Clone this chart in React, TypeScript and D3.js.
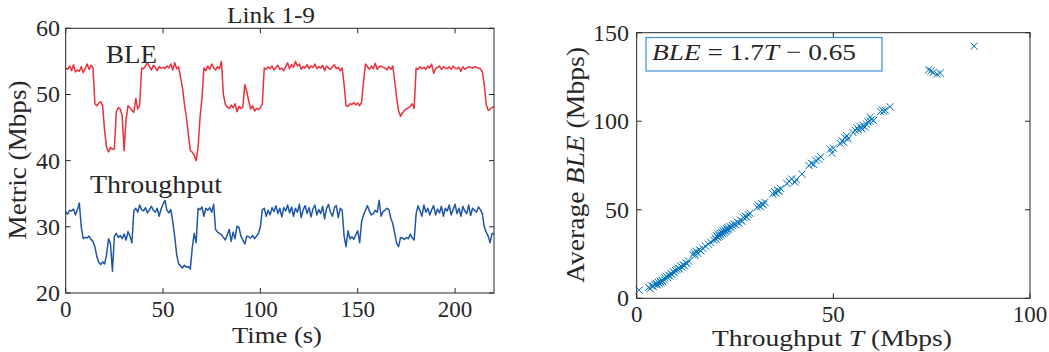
import React from "react";
import * as d3 from "d3";

// ---------- Data ----------
const bleSeries: number[] = [
  54.0, 53.8, 54.3, 53.6, 54.5, 53.4, 53.7, 53.5, 54.2, 53.3, 53.9, 54.6, 53.8, 54.4, 54.1,
  48.6, 48.3, 48.7, 48.9, 48.2,
  44.5, 42.0, 41.3, 42.0, 41.7, 41.8,
  47.4, 48.0, 47.8, 46.8,
  41.5,
  46.2, 48.3, 48.0, 47.6, 47.3, 49.4, 47.8, 48.4,
  54.0, 53.9, 54.3, 54.8, 54.2, 53.7, 54.4, 54.1, 53.6, 54.2, 54.0, 54.1, 53.9, 54.3, 54.0, 54.6, 53.7, 54.8, 53.9, 54.2,
  52.6, 51.0, 48.5, 46.6, 44.0, 41.5, 41.3, 40.8, 40.0, 42.0, 46.5, 49.5,
  54.0, 53.6, 54.3, 53.8, 54.6, 54.0, 53.7, 54.2, 53.9, 55.0,
  50.0, 48.5, 48.1, 47.9, 48.4, 48.0, 48.6, 47.4, 48.2, 47.9, 48.1, 51.5, 50.5, 49.0, 47.8, 48.3, 47.5, 47.9, 47.7, 48.0, 48.6,
  54.0, 53.8, 54.2, 53.9, 54.3, 53.7, 54.1, 54.4, 53.8, 54.0, 53.6, 54.2, 54.8, 53.9, 54.5, 54.1, 55.0, 54.3, 54.6, 53.8, 54.2,
  54.0, 54.5, 53.9, 54.3, 54.1, 54.6, 53.9, 54.2, 54.0, 54.4, 53.6, 54.3, 54.0, 53.8, 54.2, 54.5, 53.9, 54.1, 53.6, 54.0, 51.5,
  48.3, 48.2, 48.6, 48.5, 48.8, 48.4, 48.7, 48.3, 48.9,
  52.0, 54.6, 54.2, 53.8, 54.3, 53.9, 54.7, 53.8, 54.2, 54.3, 54.1, 54.0, 53.7, 54.2, 53.8, 54.3,
  52.0, 49.5, 47.5, 46.7, 47.2, 47.6, 47.8, 48.0, 48.2, 48.6, 47.9,
  54.0, 53.8, 54.2, 53.9, 54.1, 53.8, 54.3, 54.0, 54.6, 53.2, 53.9, 54.1, 54.3, 53.8, 54.2, 54.0, 53.9, 54.2,
  53.8, 54.3, 54.0, 53.9, 54.1, 53.5, 54.2, 53.8, 54.0, 54.2, 54.1, 54.0, 54.2, 54.1, 54.0, 53.9, 53.4,
  51.5, 48.5, 47.6, 47.8, 48.0, 48.2,
];

const throughputSeries: number[] = [
  32.3, 31.9, 32.5, 32.4, 32.7, 31.8, 32.6,
  33.6,
  30.0, 28.2, 28.4, 28.3, 28.6, 28.1,
  27.8, 27.0, 25.5, 24.6, 24.3, 24.7, 24.4, 25.8,
  28.2, 27.4, 23.3, 28.6, 29.0, 28.4, 28.7, 28.2, 28.9, 28.0, 29.3, 28.6, 27.6,
  32.4, 32.8, 32.2, 33.3, 32.6, 32.4, 32.9, 32.1, 32.6, 33.1, 32.5, 32.2, 32.8, 31.6, 32.7, 33.4, 34.0, 32.5, 32.1, 32.6,
  30.8, 28.5, 25.8, 24.4, 24.1, 23.8, 24.2, 23.9, 24.0, 23.6, 26.8, 29.0, 27.6,
  32.8, 32.6, 33.0, 31.6, 32.8, 32.5, 32.9, 32.2, 33.4,
  29.6, 29.2, 29.0, 28.8, 28.4, 28.0, 28.8, 29.6, 27.8, 29.2, 28.2, 30.1, 29.9, 28.6, 28.0, 27.4, 28.6, 28.5, 28.3, 28.7, 28.2, 28.6, 29.0, 30.0,
  32.6, 32.8, 31.6, 32.5, 31.8, 32.9, 32.3, 33.2, 32.0, 32.8, 31.5, 32.9, 32.4, 33.3, 32.1, 33.0, 31.6, 32.8, 32.2, 33.4, 31.4,
  32.6, 33.2, 32.0, 32.9, 31.5, 32.7, 33.3, 31.8, 32.6, 32.0, 33.1, 31.2, 32.8, 33.4, 32.2, 31.6, 32.9, 33.2, 31.4, 32.8, 32.5,
  28.6, 27.0, 29.4, 28.2, 28.5, 28.1, 28.8, 29.4, 27.6,
  30.8, 31.8, 32.5, 33.2, 32.4, 31.8, 32.0, 32.5, 32.2, 34.0, 31.6, 32.3, 32.5, 32.8, 32.6, 31.3, 30.5,
  29.0, 27.5, 27.0, 28.4, 28.3, 28.1, 28.4, 28.2, 28.9, 28.3, 28.0,
  32.0, 33.2, 32.4, 31.6, 33.3, 32.2, 32.8, 31.8, 32.6, 33.2, 31.8, 32.7, 32.1, 33.1, 31.6, 32.8, 32.4, 33.3,
  31.8, 32.6, 33.4, 32.0, 32.8, 31.6, 33.1, 32.4, 32.0, 33.3, 31.7, 32.8, 32.5, 32.2, 33.0, 32.6, 32.0,
  30.0, 29.2, 28.6, 27.6, 29.0, 29.0,
];

const timeTicks = [0, 50, 100, 150, 200];
const metricTicks = [20, 30, 40, 50, 60];

const scatterT: number[] = [
  0.6, 3.0, 3.4, 3.8, 4.2, 4.6, 5.0, 5.2, 5.5, 5.8, 6.0, 6.2, 6.4, 6.6, 6.9,
  7.2, 7.5, 7.8, 8.1, 8.4, 8.7, 9.0, 9.3, 9.6,
  9.9, 10.3, 10.6, 10.9, 11.2, 11.5, 11.8, 12.1, 12.5, 12.8, 13.2,
  14.3, 14.6, 14.9, 15.2, 15.5, 15.9, 16.3, 16.8,
  17.5, 18.2, 18.8,
  19.6, 20.0, 20.2, 20.4, 20.6, 20.8, 21.0, 21.2, 21.4, 21.6, 21.8, 22.0, 22.2, 22.4, 22.6, 22.8, 23.0, 23.2, 23.4, 23.7, 24.0, 24.3,
  24.8, 25.2, 25.6, 26.0, 26.4, 26.8, 27.2, 27.6, 28.0, 28.4, 28.8,
  30.6, 31.0, 31.4, 31.8, 32.2, 32.6,
  34.6, 35.0, 35.4, 35.8, 36.2, 36.6,
  38.2, 38.8, 39.4, 40.2, 40.6,
  42.0,
  43.8, 44.4, 45.0, 45.6, 46.2, 46.8,
  49.2, 49.6, 50.0,
  51.8, 52.2, 52.6, 53.0, 53.4, 53.8,
  55.0, 55.6, 56.0, 56.4, 56.8, 57.2, 57.6, 58.0, 58.4, 58.8, 59.2, 59.4, 59.8, 60.2,
  62.0, 62.4, 62.8, 63.2, 64.4,
  74.2, 74.8, 75.4, 76.4, 77.2,
  85.8,
];
const scatterBLE: number[] = [
  4.6, 6.2, 5.4, 7.0, 6.8, 7.8, 8.4, 7.6, 9.0, 8.2, 9.6, 8.8, 10.2, 9.4, 10.8,
  11.6, 12.4, 11.8, 13.0, 12.6, 14.0, 13.4, 15.0, 14.4,
  15.6, 16.2, 17.0, 16.6, 18.2, 17.6, 19.0, 18.4, 20.0, 19.6, 21.0,
  24.6, 25.8, 24.2, 26.6, 25.4, 27.4, 26.8, 28.2,
  29.4, 30.6, 31.6,
  32.8, 34.0, 33.2, 35.2, 34.4, 36.2, 35.0, 36.8, 35.6, 37.4, 36.6, 38.0, 37.2, 38.6, 37.8, 39.4, 38.4, 40.0, 39.0, 40.6, 39.8, 41.2,
  42.0, 41.6, 43.0, 42.4, 44.2, 43.4, 45.6, 46.4, 45.8, 47.2, 48.0,
  51.4, 52.4, 51.8, 53.4, 52.8, 54.2,
  59.0, 60.2, 59.4, 61.0, 60.4, 62.0,
  64.8, 66.0, 67.4, 65.6, 67.0,
  70.2,
  75.0, 76.2, 75.6, 77.8, 78.6, 80.0,
  84.2, 82.0, 84.8,
  87.4, 89.0, 88.2, 90.6, 91.8, 90.0,
  93.6, 94.8, 96.2, 95.0, 97.0, 95.8, 97.6, 96.6, 98.4, 99.6, 100.2, 102.4, 101.0, 100.4,
  105.4, 106.4, 105.6, 106.2, 108.2,
  129.0, 128.4, 127.6, 126.6, 127.2,
  142.4,
];
const throughputTicks = [0, 50, 100];
const bleTicks = [0, 50, 100, 150];

// ---------- Style ----------
const FONT = "'Liberation Serif', 'Times New Roman', serif";
const AXIS = "#262626";
const RED = "#ec2f3b";
const BLUE = "#1f56a8";
const MBLUE = "#0072BD";
const TICK = 5;

export default function App() {
  // Left plot
  const L = { x0: 65.7, x1: 494, y0: 28.3, y1: 293 };
  const xL = d3.scaleLinear().domain([0, 220]).range([L.x0, L.x1]);
  const yL = d3.scaleLinear().domain([20, 60]).range([L.y1, L.y0]);
  const lineL = d3
    .line<number>()
    .x((_, i) => xL(i))
    .y((d) => yL(d));

  // Right plot
  const R = { x0: 636.7, x1: 1030, y0: 32.7, y1: 298.3 };
  const xR = d3.scaleLinear().domain([0, 100]).range([R.x0, R.x1]);
  const yR = d3.scaleLinear().domain([0, 150]).range([R.y1, R.y0]);

  const m = 3.6;

  return (
    <svg
      width={1049}
      height={352}
      style={{ position: "absolute", left: 0, top: 0, background: "#fff" }}
      fontFamily={FONT}
    >
      <rect width={1049} height={352} fill="#fff" />
      {/* ---------- Left plot ---------- */}
      <g>
        <path d={lineL(bleSeries) || ""} fill="none" stroke={RED} strokeWidth={1.5} strokeLinejoin="round" />
        <path d={lineL(throughputSeries) || ""} fill="none" stroke={BLUE} strokeWidth={1.5} strokeLinejoin="round" />
        <rect x={L.x0} y={L.y0} width={L.x1 - L.x0} height={L.y1 - L.y0} fill="none" stroke={AXIS} strokeWidth={1} />
        {timeTicks.map((t) => (
          <g key={"tx" + t}>
            <line x1={xL(t)} x2={xL(t)} y1={L.y1} y2={L.y1 - TICK} stroke={AXIS} />
            <line x1={xL(t)} x2={xL(t)} y1={L.y0} y2={L.y0 + TICK} stroke={AXIS} />
            <text x={xL(t)} y={317} fontSize={23} textAnchor="middle" fill={AXIS}>
              {t}
            </text>
          </g>
        ))}
        {metricTicks.map((v) => (
          <g key={"ty" + v}>
            <line x1={L.x0} x2={L.x0 + TICK} y1={yL(v)} y2={yL(v)} stroke={AXIS} />
            <line x1={L.x1} x2={L.x1 - TICK} y1={yL(v)} y2={yL(v)} stroke={AXIS} />
            <text x={60} y={yL(v) + 8} fontSize={24} textAnchor="end" fill={AXIS}>
              {v}
            </text>
          </g>
        ))}
        <text x={271} y={23} fontSize={23} textAnchor="middle" fill={AXIS} textLength={88} lengthAdjust="spacingAndGlyphs">
          Link 1-9
        </text>
        <text x={277} y={343} fontSize={24} textAnchor="middle" fill={AXIS} textLength={90} lengthAdjust="spacingAndGlyphs">
          Time (s)
        </text>
        <text
          transform={`translate(26,160) rotate(-90)`}
          fontSize={25}
          textAnchor="middle"
          fill={AXIS}
          textLength={159}
          lengthAdjust="spacingAndGlyphs"
        >
          Metric (Mbps)
        </text>
        <text x={106} y={63} fontSize={25} fill={AXIS} textLength={51} lengthAdjust="spacingAndGlyphs">
          BLE
        </text>
        <text x={90} y={193} fontSize={25} fill={AXIS} textLength={132} lengthAdjust="spacingAndGlyphs">
          Throughput
        </text>
      </g>

      {/* ---------- Right plot ---------- */}
      <g>
        {scatterT.map((t, i) => {
          const cx = xR(t);
          const cy = yR(scatterBLE[i]);
          return (
            <path
              key={"p" + i}
              d={`M${cx - m},${cy - m}L${cx + m},${cy + m}M${cx - m},${cy + m}L${cx + m},${cy - m}`}
              stroke={MBLUE}
              strokeWidth={1}
              fill="none"
            />
          );
        })}
        <rect x={R.x0} y={R.y0} width={R.x1 - R.x0} height={R.y1 - R.y0} fill="none" stroke={AXIS} strokeWidth={1} />
        {throughputTicks.map((t) => (
          <g key={"rx" + t}>
            <line x1={xR(t)} x2={xR(t)} y1={R.y1} y2={R.y1 - TICK} stroke={AXIS} />
            <line x1={xR(t)} x2={xR(t)} y1={R.y0} y2={R.y0 + TICK} stroke={AXIS} />
            <text x={xR(t)} y={322} fontSize={23} textAnchor="middle" fill={AXIS}>
              {t}
            </text>
          </g>
        ))}
        {bleTicks.map((v) => (
          <g key={"ry" + v}>
            <line x1={R.x0} x2={R.x0 + TICK} y1={yR(v)} y2={yR(v)} stroke={AXIS} />
            <line x1={R.x1} x2={R.x1 - TICK} y1={yR(v)} y2={yR(v)} stroke={AXIS} />
            <text x={629} y={yR(v) + 8} fontSize={24} textAnchor="end" fill={AXIS}>
              {v}
            </text>
          </g>
        ))}
        <rect x={646} y={37.5} width={236} height={33.5} fill="#fff" stroke="#3d8fd0" strokeWidth={1.2} />
        <text x={652} y={60} fontSize={24} fill={AXIS} textLength={204} lengthAdjust="spacingAndGlyphs">
          <tspan fontStyle="italic">BLE</tspan>
          <tspan> = 1.7</tspan>
          <tspan fontStyle="italic">T</tspan>
          <tspan> − 0.65</tspan>
        </text>
        <text x={832} y={346} fontSize={24} textAnchor="middle" fill={AXIS} textLength={240} lengthAdjust="spacingAndGlyphs">
          <tspan>Throughput </tspan>
          <tspan fontStyle="italic">T</tspan>
          <tspan> (Mbps)</tspan>
        </text>
        <text
          transform={`translate(584,165) rotate(-90)`}
          fontSize={25}
          textAnchor="middle"
          fill={AXIS}
          textLength={236}
          lengthAdjust="spacingAndGlyphs"
        >
          <tspan>Average </tspan>
          <tspan fontStyle="italic">BLE</tspan>
          <tspan> (Mbps)</tspan>
        </text>
      </g>
    </svg>
  );
}
